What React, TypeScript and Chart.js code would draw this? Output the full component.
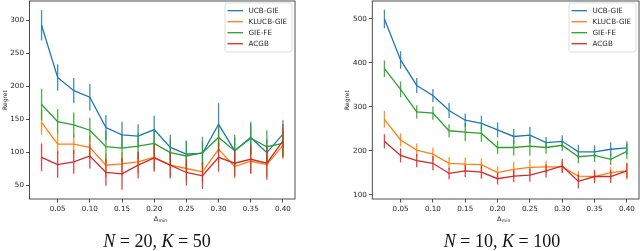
import React, { useEffect, useRef } from 'react';
import { Chart, registerables } from 'chart.js';

Chart.register(...registerables);

// ---------- data ----------
const deltas = [0.025, 0.05, 0.075, 0.1, 0.125, 0.15, 0.175, 0.2, 0.225, 0.25, 0.275, 0.3, 0.325, 0.35, 0.375, 0.4];
const xTicks = [0.05, 0.1, 0.15, 0.2, 0.25, 0.3, 0.35, 0.4];
const leftYTicks = [50, 100, 150, 200, 250, 300];
const rightYTicks = [100, 200, 300, 400, 500];
const seriesNames = ['UCB-GIE', 'KLUCB-GIE', 'GIE-FE', 'ACGB'];
const seriesColors = ['#1f77b4', '#ff7f0e', '#2ca02c', '#d62728'];

// Left panel: N = 20, K = 50
const ucbGieL = [292, 213, 193, 183, 137, 126, 124, 134, 107, 97, 98, 142, 102, 122, 99, 127];
const ucbGieLErr = [23, 20, 19, 20, 19, 20, 18, 21, 19, 20, 18, 32, 20, 21, 20, 21];
const klucbGieL = [145, 112, 112, 107, 80, 82, 85, 92, 80, 75, 70, 104, 78, 86, 81, 110];
const klucbGieLErr = [19, 15, 15, 18, 18, 18, 17, 19, 18, 18, 15, 20, 18, 18, 18, 21];
const gieFeL = [172, 146, 141, 133, 108, 106, 109, 113, 99, 94, 99, 122, 102, 121, 108, 113];
const gieFeLErr = [24, 19, 19, 19, 24, 21, 20, 19, 20, 23, 24, 20, 24, 25, 25, 20];
const acgbL = [92, 81, 85, 94, 69, 67, 80, 91, 80, 69, 64, 92, 83, 89, 83, 117];
const acgbLErr = [21, 20, 18, 19, 20, 24, 20, 21, 20, 20, 20, 22, 20, 22, 25, 25];

// Right panel: N = 10, K = 100
const ucbGieR = [500, 407, 349, 326, 292, 270, 263, 248, 233, 236, 219, 222, 198, 198, 204, 207];
const ucbGieRErr = [21, 20, 17, 15, 17, 15, 17, 17, 17, 19, 13, 14, 16, 15, 16, 15];
const klucbGieR = [272, 225, 202, 193, 172, 170, 169, 151, 158, 163, 164, 164, 143, 142, 151, 155];
const klucbGieRErr = [19, 15, 15, 15, 14, 15, 14, 14, 17, 17, 14, 12, 12, 12, 14, 19];
const gieFeR = [387, 340, 289, 286, 246, 243, 240, 208, 208, 211, 208, 213, 187, 190, 181, 199];
const gieFeRErr = [19, 18, 15, 15, 15, 20, 19, 15, 18, 22, 14, 13, 15, 15, 13, 18];
const acgbR = [222, 190, 178, 172, 149, 155, 152, 137, 143, 145, 155, 166, 131, 142, 142, 155];
const acgbRErr = [16, 16, 15, 16, 13, 14, 15, 13, 14, 15, 15, 16, 16, 15, 15, 17];

const leftValues = [ucbGieL, klucbGieL, gieFeL, acgbL];
const leftErrors = [ucbGieLErr, klucbGieLErr, gieFeLErr, acgbLErr];
const rightValues = [ucbGieR, klucbGieR, gieFeR, acgbR];
const rightErrors = [ucbGieRErr, klucbGieRErr, gieFeRErr, acgbRErr];

const leftCaption = [
  { t: 'N', i: true },
  { t: ' = 20, ', i: false },
  { t: 'K', i: true },
  { t: ' = 50', i: false },
];
const rightCaption = [
  { t: 'N', i: true },
  { t: ' = 10, ', i: false },
  { t: 'K', i: true },
  { t: ' = 100', i: false },
];

// ---------- helpers ----------
const SANS = '"DejaVu Sans"';
const TEXT = '#262626';

function hexA(hex: string, a: number) {
  const r = parseInt(hex.slice(1, 3), 16);
  const g = parseInt(hex.slice(3, 5), 16);
  const b = parseInt(hex.slice(5, 7), 16);
  return `rgba(${r},${g},${b},${a})`;
}

interface PanelOpts {
  values: number[][];
  errors: number[][];
  yMin: number;
  yMax: number;
  yTicks: number[];
  yAxisWidth: number;
  padRight: number;
  regretX: number;
  captionX: number;
  caption: { t: string; i: boolean }[];
}

function makeConfig(p: PanelOpts): any {
  const panelPlugin = {
    id: 'panelDecor',
    afterDatasetDraw(chart: any, args: any) {
      const idx = args.index;
      const ctx = chart.ctx;
      const xs = chart.scales.x;
      const ys = chart.scales.y;
      const vals = p.values[idx];
      const errs = p.errors[idx];
      ctx.save();
      ctx.strokeStyle = hexA(seriesColors[idx], 0.85);
      ctx.lineWidth = 1.3;
      for (let i = 0; i < deltas.length; i++) {
        const x = xs.getPixelForValue(deltas[i]);
        const y1 = ys.getPixelForValue(vals[i] - errs[i]);
        const y2 = ys.getPixelForValue(vals[i] + errs[i]);
        ctx.beginPath();
        ctx.moveTo(x, y1);
        ctx.lineTo(x, y2);
        ctx.stroke();
      }
      ctx.restore();
    },
    afterDraw(chart: any) {
      const ctx = chart.ctx;
      const a = chart.chartArea;
      ctx.save();
      // frame
      ctx.strokeStyle = '#3a3a3a';
      ctx.lineWidth = 0.9;
      ctx.strokeRect(a.left, a.top, a.right - a.left, a.bottom - a.top);

      // legend
      const bw = 67;
      const bx = a.right - 3 - bw;
      const by = a.top + 2;
      const bh = 49;
      ctx.fillStyle = 'rgba(255,255,255,0.85)';
      ctx.strokeStyle = '#d4d4d4';
      ctx.lineWidth = 0.8;
      ctx.beginPath();
      (ctx as any).roundRect(bx, by, bw, bh, 2);
      ctx.fill();
      ctx.stroke();
      ctx.font = `7.2px ${SANS}`;
      ctx.textAlign = 'left';
      ctx.textBaseline = 'middle';
      for (let k = 0; k < seriesNames.length; k++) {
        const ry = by + 7.7 + k * 11;
        ctx.strokeStyle = seriesColors[k];
        ctx.lineWidth = 1.3;
        ctx.beginPath();
        ctx.moveTo(bx + 2.5, ry);
        ctx.lineTo(bx + 18, ry);
        ctx.stroke();
        ctx.fillStyle = TEXT;
        ctx.fillText(seriesNames[k], bx + 23.5, ry);
      }

      // y title
      ctx.fillStyle = TEXT;
      ctx.save();
      ctx.translate(p.regretX, (a.top + a.bottom) / 2);
      ctx.rotate(-Math.PI / 2);
      ctx.font = `6px ${SANS}`;
      ctx.textAlign = 'center';
      ctx.textBaseline = 'middle';
      ctx.fillText('Regret', 0, 0);
      ctx.restore();

      // x title: Δ_min
      const cx = (a.left + a.right) / 2 - 2;
      ctx.textAlign = 'left';
      ctx.textBaseline = 'alphabetic';
      ctx.font = `6.5px ${SANS}`;
      const wD = ctx.measureText('Δ').width;
      ctx.font = `4.6px ${SANS}`;
      const wM = ctx.measureText('min').width;
      const sx = cx - (wD + wM) / 2;
      ctx.font = `6.5px ${SANS}`;
      ctx.fillText('Δ', sx, 220.5);
      ctx.font = `4.6px ${SANS}`;
      ctx.fillText('min', sx + wD + 0.3, 222);

      // caption
      const fontFor = (it: boolean) => `${it ? 'italic ' : ''}18px "Liberation Serif"`;
      let total = 0;
      for (const s of p.caption) {
        ctx.font = fontFor(s.i);
        total += ctx.measureText(s.t).width;
      }
      let px = p.captionX - total / 2;
      ctx.fillStyle = '#111';
      for (const s of p.caption) {
        ctx.font = fontFor(s.i);
        ctx.fillText(s.t, px, 246.5);
        px += ctx.measureText(s.t).width;
      }
      ctx.restore();
    },
  };

  const datasets = seriesNames.map((name, k) => ({
    label: name,
    data: deltas.map((d, i) => ({ x: d, y: p.values[k][i] })),
    borderColor: seriesColors[k],
    backgroundColor: seriesColors[k],
    borderWidth: 1.3,
    pointRadius: 0,
    tension: 0,
    fill: false,
    order: seriesNames.length - 1 - k,
  }));

  const tickFont = { family: SANS, size: 7.2 };

  return {
    type: 'line',
    data: { datasets },
    plugins: [panelPlugin],
    options: {
      animation: false,
      responsive: false,
      maintainAspectRatio: false,
      events: [],
      layout: { padding: { left: 0, top: 1, right: p.padRight, bottom: 0 } },
      plugins: { legend: { display: false }, tooltip: { enabled: false }, title: { display: false } },
      scales: {
        x: {
          type: 'linear',
          min: 0.00625,
          max: 0.41875,
          afterBuildTicks: (s: any) => {
            s.ticks = xTicks.map((v) => ({ value: v }));
          },
          afterFit: (s: any) => {
            s.height = 52;
            s.paddingLeft = 0;
            s.paddingRight = 0;
            s.paddingTop = 0;
            s.paddingBottom = 0;
          },
          grid: { display: true, drawOnChartArea: false, drawTicks: true, tickLength: 3.5, tickColor: '#3a3a3a', tickWidth: 0.9 },
          border: { display: false },
          ticks: {
            font: tickFont,
            color: TEXT,
            padding: 2,
            maxRotation: 0,
            autoSkip: false,
            callback: (v: any) => Number(v).toFixed(2),
          },
        },
        y: {
          type: 'linear',
          min: p.yMin,
          max: p.yMax,
          afterBuildTicks: (s: any) => {
            s.ticks = p.yTicks.map((v) => ({ value: v }));
          },
          afterFit: (s: any) => {
            s.width = p.yAxisWidth;
            s.paddingLeft = 0;
            s.paddingRight = 0;
            s.paddingTop = 0;
            s.paddingBottom = 0;
          },
          grid: { display: true, drawOnChartArea: false, drawTicks: true, tickLength: 3.5, tickColor: '#3a3a3a', tickWidth: 0.9 },
          border: { display: false },
          ticks: {
            font: tickFont,
            color: TEXT,
            padding: 2,
            autoSkip: false,
            callback: (v: any) => String(v),
          },
        },
      },
    },
  };
}

export default function App() {
  const leftRef = useRef<HTMLCanvasElement | null>(null);
  const rightRef = useRef<HTMLCanvasElement | null>(null);

  useEffect(() => {
    document.body.style.margin = '0';
    const left = new Chart(
      leftRef.current as HTMLCanvasElement,
      makeConfig({
        values: leftValues,
        errors: leftErrors,
        yMin: 28.8,
        yMax: 328.8,
        yTicks: leftYTicks,
        yAxisWidth: 29.5,
        padRight: 25,
        regretX: 5.5,
        captionX: 157,
        caption: leftCaption,
      })
    );
    const right = new Chart(
      rightRef.current as HTMLCanvasElement,
      makeConfig({
        values: rightValues,
        errors: rightErrors,
        yMin: 90.9,
        yMax: 540.9,
        yTicks: rightYTicks,
        yAxisWidth: 52.3,
        padRight: 1,
        regretX: 27.5,
        captionX: 182,
        caption: rightCaption,
      })
    );
    return () => {
      left.destroy();
      right.destroy();
    };
  }, []);

  return (
    <div style={{ position: 'relative', width: 640, height: 251, background: '#fff' }}>
      <canvas ref={leftRef} width={320} height={251} style={{ position: 'absolute', left: 0, top: 0, width: 320, height: 251 }} />
      <canvas ref={rightRef} width={320} height={251} style={{ position: 'absolute', left: 320, top: 0, width: 320, height: 251 }} />
    </div>
  );
}
